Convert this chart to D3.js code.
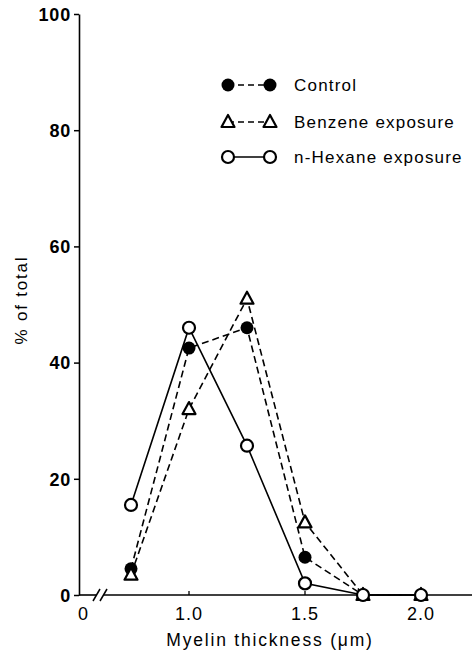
<!DOCTYPE html>
<html><head><meta charset="utf-8">
<script src="https://cdn.jsdelivr.net/npm/d3@7/dist/d3.min.js"></script>
<style>body{margin:0;background:#fff}svg{display:block}text{font-family:"Liberation Sans",Arial,sans-serif;fill:#000}</style>
</head><body><svg id="c" width="474" height="653"></svg>
<script>
const xValues = [0.75, 1.0, 1.25, 1.5, 1.75, 2.0];
const control = [4.5, 42.5, 46, 6.5, 0, 0];
const benzene = [3.5, 32, 51, 12.5, 0, 0];
const hexane = [15.5, 46, 25.7, 2, 0, 0];
const yTicks = [0, 20, 40, 60, 80, 100];
const xTicks = [1.0, 1.5, 2.0];
const seriesNames = ["Control", "Benzene exposure", "n-Hexane exposure"];

const svg = d3.select("#c");
const x = d3.scaleLinear().domain([1.0, 2.0]).range([189, 421]);
const y = d3.scaleLinear().domain([0, 100]).range([595, 14]);
const x0 = 79;

// y axis
const yAxis = d3.axisLeft(y).tickValues(yTicks).tickSize(5).tickSizeOuter(0).tickPadding(3);
const gy = svg.append("g").attr("transform", `translate(${x0},0)`).call(yAxis);
gy.select(".domain").attr("stroke", "#000").attr("stroke-width", 1.6);
gy.selectAll(".tick line").attr("stroke-width", 1.5);
gy.selectAll(".tick text").style("font-size", "18px").style("font-weight", "bold").style("letter-spacing", "0.8px").attr("dy", "0.35em");

// x axis line with break
const gx = svg.append("g");
gx.append("line").attr("x1", x0).attr("x2", 96).attr("y1", y(0)).attr("y2", y(0)).attr("stroke", "#000").attr("stroke-width", 1.6);
gx.append("line").attr("x1", 104).attr("x2", 472).attr("y1", y(0)).attr("y2", y(0)).attr("stroke", "#000").attr("stroke-width", 1.6);
[96, 103].forEach(bx => gx.append("line").attr("x1", bx - 3).attr("x2", bx + 4).attr("y1", y(0) + 6).attr("y2", y(0) - 6).attr("stroke", "#000").attr("stroke-width", 1.5));
xTicks.forEach(t => {
  gx.append("line").attr("x1", x(t)).attr("x2", x(t)).attr("y1", y(0)).attr("y2", y(0) - 4).attr("stroke", "#000").attr("stroke-width", 1.3);
  gx.append("text").attr("x", x(t)).attr("y", 620).attr("text-anchor", "middle").style("font-size", "18px").style("letter-spacing", "1px").text(d3.format(".1f")(t));
});
gx.append("text").attr("x", 83).attr("y", 620).attr("text-anchor", "middle").style("font-size", "18px").text("0");

// axis titles
svg.append("text").attr("transform", "translate(27,300) rotate(-90)").attr("text-anchor", "middle").style("font-size", "17px").style("letter-spacing", "1.8px").text("% of total");
svg.append("text").attr("x", 270).attr("y", 646).attr("text-anchor", "middle").style("font-size", "17.5px").style("letter-spacing", "1.8px").text("Myelin thickness (\u03bcm)");

const line = d3.line().x((d, i) => x(xValues[i])).y(d => y(d));
const dash = "7,4";

function marker(g, type, cx, cy) {
  if (type === "filled") g.append("circle").attr("cx", cx).attr("cy", cy).attr("r", 6.5).attr("fill", "#000");
  else if (type === "open") g.append("circle").attr("cx", cx).attr("cy", cy).attr("r", 6).attr("fill", "#fff").attr("stroke", "#000").attr("stroke-width", 2.2);
  else g.append("path").attr("d", `M${cx},${cy - 7}L${cx + 6.5},${cy + 5}L${cx - 6.5},${cy + 5}Z`).attr("fill", "#fff").attr("stroke", "#000").attr("stroke-width", 2.2).attr("stroke-linejoin", "round");
}

const series = [
  {data: control, type: "filled", dash: dash},
  {data: benzene, type: "tri", dash: dash},
  {data: hexane, type: "open", dash: null}
];
const gl = svg.append("g");
series.forEach(s => {
  gl.append("path").attr("d", line(s.data)).attr("fill", "none").attr("stroke", "#000").attr("stroke-width", 1.6).attr("stroke-dasharray", s.dash);
});
series.forEach(s => {
  s.data.forEach((v, i) => marker(gl, s.type, x(xValues[i]), y(v)));
});

// legend
const legY = [85, 122, 157];
const lg = svg.append("g");
series.forEach((s, i) => {
  lg.append("line").attr("x1", 228).attr("x2", 270).attr("y1", legY[i]).attr("y2", legY[i]).attr("stroke", "#000").attr("stroke-width", 1.6).attr("stroke-dasharray", s.dash ? "6,4" : null);
  marker(lg, s.type, 228, legY[i]);
  marker(lg, s.type, 270, legY[i]);
  lg.append("text").attr("x", 294).attr("y", legY[i]).attr("dy", "0.35em").style("font-size", "17px").style("letter-spacing", "1.2px").text(seriesNames[i]);
});
</script></body></html>
